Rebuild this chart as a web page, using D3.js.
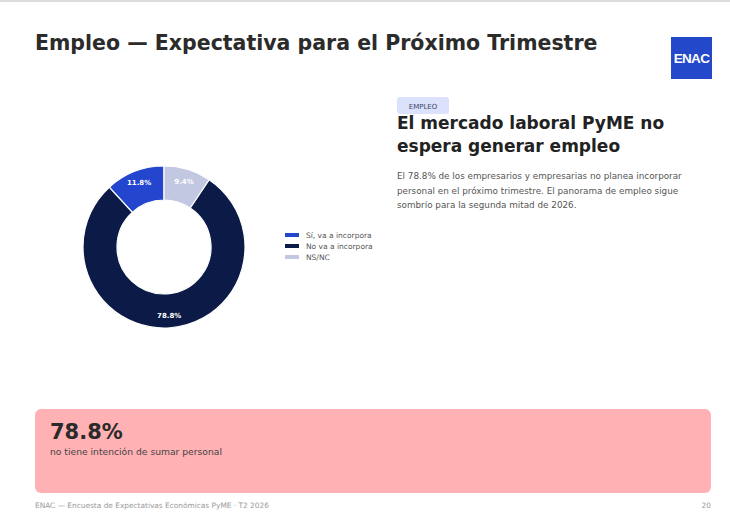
<!DOCTYPE html>
<html>
<head>
<meta charset="utf-8">
<script src="https://cdn.jsdelivr.net/npm/d3@7"></script>
<style>
  body { margin: 0; background: #fff; }
  svg { display: block; font-family: "DejaVu Sans", sans-serif; }
</style>
</head>
<body>
<svg id="chart" width="730" height="527"></svg>
<script>
// datos del grafico
const categorias = ["Sí, va a incorpora", "No va a incorpora", "NS/NC"];
const valores = [11.8, 78.8, 9.4];
const colores = ["#2446cf", "#0c1a47", "#c2c7e2"];

const titulo = "Empleo — Expectativa para el Próximo Trimestre";
const etiqueta = "EMPLEO";
const titular = ["El mercado laboral PyME no", "espera generar empleo"];
const parrafo = [
  "El 78.8% de los empresarios y empresarias no planea incorporar",
  "personal en el próximo trimestre. El panorama de empleo sigue",
  "sombrío para la segunda mitad de 2026."
];
const destacado = "78.8%";
const destacadoTexto = "no tiene intención de sumar personal";
const pie_pagina = "ENAC — Encuesta de Expectativas Económicas PyME · T2 2026";
const pagina = "20";

const svg = d3.select("#chart");

// linea gris arriba
svg.append("rect").attr("x", 0).attr("y", 0).attr("width", 730).attr("height", 2)
  .style("fill", "#dcdcdc");

// titulo
svg.append("text")
  .attr("x", 35).attr("y", 50)
  .style("font-size", "20.5px").style("font-weight", "bold").style("fill", "#2b2b2b")
  .text(titulo);

// logo ENAC
svg.append("rect").attr("x", 671).attr("y", 37).attr("width", 41).attr("height", 42)
  .style("fill", "#2348c9");
svg.append("text")
  .attr("x", 691.5).attr("y", 62.5).attr("text-anchor", "middle")
  .style("font-family", "'Liberation Sans Narrow', 'Liberation Sans', sans-serif")
  .style("font-size", "13.5px").style("font-weight", "bold").style("fill", "#fff")
  .style("letter-spacing", "-0.7px")
  .text("ENAC");

// donut
const cx = 164, cy = 247, rOut = 81, rIn = 47;

const pie = d3.pie().value(d => d).sort(null)
  .startAngle(0).endAngle(-2 * Math.PI); // antihorario como matplotlib

const arc = d3.arc().innerRadius(rIn).outerRadius(rOut);
const arcLabel = d3.arc().innerRadius(rOut * 0.85).outerRadius(rOut * 0.85);

const g = svg.append("g").attr("transform", "translate(" + cx + "," + cy + ")");

const arcs = pie(valores);

g.selectAll("path")
  .data(arcs)
  .enter()
  .append("path")
  .attr("d", arc)
  .style("fill", (d, i) => colores[i])
  .style("stroke", "#fff")
  .style("stroke-width", 1.2);

g.selectAll("text")
  .data(arcs)
  .enter()
  .append("text")
  .attr("transform", d => "translate(" + arcLabel.centroid(d) + ")")
  .attr("text-anchor", "middle")
  .attr("dy", "0.35em")
  .style("font-size", "7px").style("font-weight", "bold").style("fill", "#fff")
  .text(d => d3.format(".1f")(d.data) + "%");

// leyenda
const leg = svg.append("g").attr("transform", "translate(285,235)");
categorias.forEach((c, i) => {
  leg.append("rect").attr("x", 0).attr("y", i * 11 - 2).attr("width", 14).attr("height", 4)
    .style("fill", colores[i]);
  leg.append("text").attr("x", 21).attr("y", i * 11 + 2.7)
    .style("font-size", "7.5px").style("fill", "#555")
    .text(c);
});

// etiqueta EMPLEO
svg.append("rect").attr("x", 397).attr("y", 97).attr("width", 52).attr("height", 17).attr("rx", 3)
  .style("fill", "#dce2fb");
svg.append("text").attr("x", 423).attr("y", 108.5).attr("text-anchor", "middle")
  .style("font-size", "7px").style("fill", "#3a4466")
  .text(etiqueta);

// titular
titular.forEach((t, i) => {
  svg.append("text").attr("x", 397).attr("y", 129 + i * 23)
    .style("font-size", "17px").style("font-weight", "bold").style("fill", "#222")
    .text(t);
});

// parrafo
parrafo.forEach((t, i) => {
  svg.append("text").attr("x", 397).attr("y", 179 + i * 14.5)
    .style("font-size", "8.8px").style("fill", "#555")
    .text(t);
});

// caja rosa
svg.append("rect").attr("x", 35).attr("y", 409).attr("width", 676).attr("height", 84).attr("rx", 6)
  .style("fill", "#ffb1b4");
svg.append("text").attr("x", 50).attr("y", 439)
  .style("font-size", "21px").style("font-weight", "bold").style("fill", "#2a2a2a")
  .text(destacado);
svg.append("text").attr("x", 50).attr("y", 455)
  .style("font-size", "9.2px").style("fill", "#444")
  .text(destacadoTexto);

// pie de pagina
svg.append("text").attr("x", 35).attr("y", 508)
  .style("font-size", "7.4px").style("fill", "#999")
  .text(pie_pagina);
svg.append("text").attr("x", 711).attr("y", 508).attr("text-anchor", "end")
  .style("font-size", "7.4px").style("fill", "#999")
  .text(pagina);
</script>
</body>
</html>
